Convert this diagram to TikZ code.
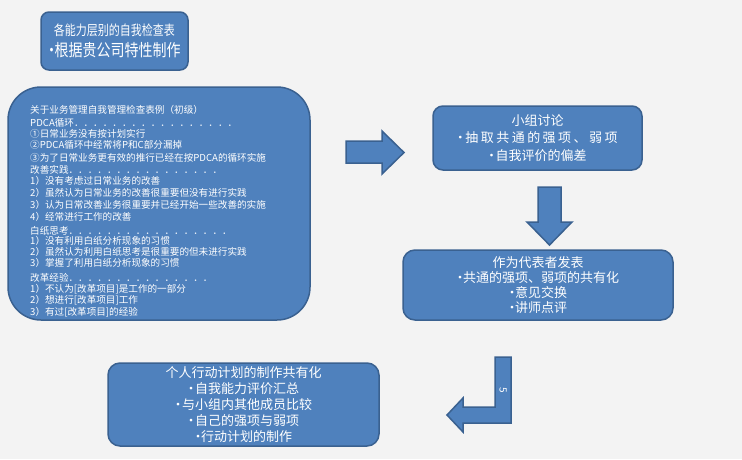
\documentclass[tikz,border=0pt]{standalone}
\usepackage{fontspec}
\setmainfont{Noto Sans CJK SC}
\definecolor{bg}{HTML}{F3F3F3}
\definecolor{boxfill}{HTML}{4F81BD}
\definecolor{boxline}{HTML}{3A6190}
\newcommand{\bul}{\makebox[6pt]{·}}
\begin{document}
\begin{tikzpicture}[x=1pt,y=-1pt,
  panel/.style={rectangle,draw=boxline,fill=boxfill,line width=1.5pt,text=white,align=center,inner sep=0pt},
  blockarrow/.style={draw=boxline,fill=boxfill,line width=1.5pt,line join=miter},
  item/.style={anchor=west,inner sep=0pt,text=white,font=\fontsize{9.6}{11}\selectfont}]
\fill[bg] (0,0) rectangle (742,459);
\useasboundingbox (0,0) rectangle (742,459);

% title box
\node[panel,rounded corners=8pt,minimum width=147pt,minimum height=58pt] (title) at (114.5,41)
  {\fontsize{11}{12}\selectfont\scalebox{1}[1.25]{各能力层别的自我检查表}\\[5pt]
   \fontsize{14}{15}\selectfont\scalebox{1}[1.2]{\bul 根据贵公司特性制作}};

% big checklist box
\node[panel,rounded corners=33pt,minimum width=302pt,minimum height=233pt] (check) at (159,203.5) {};
\node[item] (l1) at (30,110) {关于业务管理自我管理检查表例（初级）};
\node[item] (l2) at (30,123) {PDCA循环．．．．．．．．．．．．．．．．．};
\node[item] (l3) at (30,134) {①日常业务没有按计划实行};
\node[item] (l4) at (30,145) {②PDCA循环中经常将P和C部分漏掉};
\node[item] (l5) at (30,158) {③为了日常业务更有效的推行已经在按PDCA的循环实施};
\node[item] (l6) at (30,170) {改善实践．．．．．．．．．．．．．．．．};
\node[item] (l7) at (30,181) {1）没有考虑过日常业务的改善};
\node[item] (l8) at (30,193) {2）虽然认为日常业务的改善很重要但没有进行实践};
\node[item] (l9) at (30,205) {3）认为日常改善业务很重要并已经开始一些改善的实施};
\node[item] (l10) at (30,217) {4）经常进行工作的改善};
\node[item] (l11) at (30,231) {白纸思考．．．．．．．．．．．．．．．．．};
\node[item] (l12) at (30,241) {1）没有利用白纸分析现象的习惯};
\node[item] (l13) at (30,252) {2）虽然认为利用白纸思考是很重要的但未进行实践};
\node[item] (l14) at (30,263) {3）掌握了利用白纸分析现象的习惯};
\node[item] (l15) at (30,278) {改革经验．．．．．．．．．．．．．．．};
\node[item] (l16) at (30,289) {1）不认为[改革项目]是工作的一部分};
\node[item] (l17) at (30,300) {2）想进行[改革项目]工作};
\node[item] (l18) at (30,312) {3）有过[改革项目]的经验};

% group discussion
\node[panel,rounded corners=10pt,minimum width=209pt,minimum height=64pt,font=\fontsize{13}{17.5}\selectfont] (group) at (537.5,138)
  {小组讨论\\\bul\hspace{2pt}{\addfontfeature{LetterSpace=19}抽取共通的强项、弱项}\\\bul\hspace{1pt}自我评价的偏差};

% presentation
\node[panel,rounded corners=12pt,minimum width=270pt,minimum height=70pt,font=\fontsize{13}{15.3}\selectfont] (present) at (538,285)
  {作为代表者发表\\\bul 共通的强项、弱项的共有化\\\bul 意见交换\\\bul 讲师点评};

% personal plan
\node[panel,rounded corners=12pt,minimum width=271pt,minimum height=83pt,font=\fontsize{13}{15.8}\selectfont] (plan) at (243.5,404.5)
  {个人行动计划的制作共有化\\\bul\hspace{1pt}自我能力评价汇总\\\bul\hspace{1pt}与小组内其他成员比较\\\bul\hspace{1pt}自己的强项与弱项\\\bul 行动计划的制作};

% block arrows
\draw[blockarrow] (346,141) -- (382,141) -- (382,131) -- (404,152.5) -- (382,174) -- (382,163) -- (346,163) -- cycle;
\draw[blockarrow] (538,187) -- (561,187) -- (561,222) -- (572,222) -- (549.5,245) -- (527,222) -- (538,222) -- cycle;
\draw[blockarrow] (495,357) -- (511,357) -- (511,423) -- (463,423) -- (463,432) -- (447,415) -- (463,398) -- (463,407) -- (495,407) -- cycle;
\node[text=white,inner sep=0pt,rotate=-90,font=\fontsize{10}{10}\selectfont] (five) at (503,390) {5};
\end{tikzpicture}
\end{document}
